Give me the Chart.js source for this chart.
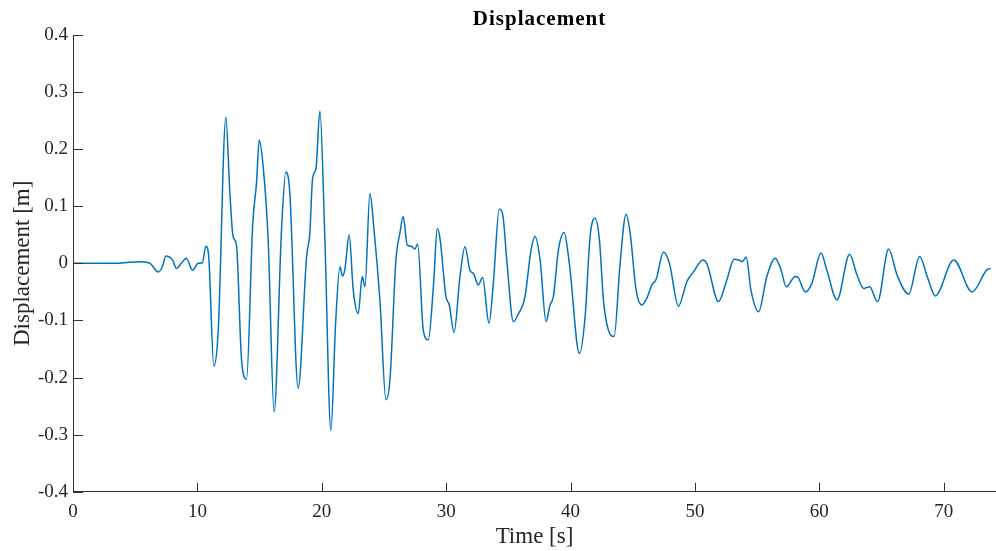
<!doctype html>
<html lang="en">
  <head>
    <meta charset="UTF-8">
    <title>Displacement</title>
    <style>
      body { margin: 0; background: #fff; }
    </style>
  </head>
  <body>
    <canvas id="myChart" width="996" height="551"></canvas>

    <script src="https://cdn.jsdelivr.net/npm/chart.js@4.4.1/dist/chart.umd.min.js"></script>
    <script>
    // Data-----
    const times = [
      0, 3.5, 4.5, 5.5, 6.2, 6.84, 7.2, 7.46, 8.0, 8.32, 8.7, 9.12, 9.6, 10.06, 10.4, 10.68, 10.9,
      11.32, 11.67, 12.29, 12.6, 12.87, 13.14, 13.55, 13.95, 14.45, 14.75, 14.97, 15.29, 15.69,
      16.17, 16.76, 17.11, 17.43, 18.1, 18.78, 19.04, 19.26, 19.53, 19.85, 20.25, 20.73,
      21.11, 21.46, 21.67, 21.86, 22.2, 22.53, 22.93, 23.25, 23.47, 23.87, 24.19, 24.67,
      25.16, 25.48, 25.96, 26.28, 26.55, 26.87, 27.2, 27.49, 27.71, 28.16, 28.56, 28.99,
      29.28, 29.5, 29.98, 30.25, 30.63, 31.11, 31.51, 31.91, 32.2, 32.58, 32.93, 33.44,
      33.79, 34.27, 34.55, 34.87, 35.4, 35.8, 36.34, 36.8, 37.14, 37.55, 38.03, 38.35,
      38.62, 39.02, 39.48, 39.9, 40.71, 41.17, 41.57, 41.97, 42.32, 42.64, 43.04, 43.5,
      43.98, 44.46, 44.79, 45.27, 45.73, 46.13, 46.53, 46.88, 47.47, 47.95, 48.67, 49.35,
      49.88, 50.63, 50.95, 51.89, 52.56, 53.15, 53.6, 53.8, 54.12, 54.5, 55.11, 55.78,
      56.45, 56.9, 57.34, 58.06, 58.3, 58.87, 59.4, 60.13, 60.6, 61.42, 62.43, 63.02,
      63.56, 64.04, 64.68, 65.57, 66.24, 67.18, 68.06, 68.7, 69.32, 70.8, 72.28, 73.48, 73.75
    ];
    const disp = [
      0, 0, 0.002, 0.003, 0, -0.015, -0.005, 0.013, 0.006, -0.009, 0.0, 0.009, -0.012, 0.0, 0.001, 0.030, 0.015,
      -0.180, -0.120, 0.256, 0.128, 0.047, 0.032, -0.169, -0.203, 0.070, 0.140, 0.216, 0.169, 0.041,
      -0.260, 0.058, 0.160, 0.123, -0.219, 0.012, 0.053, 0.149, 0.166, 0.267, 0.041, -0.293,
      -0.105, -0.006, -0.022, -0.010, 0.050, -0.047, -0.088, -0.023, -0.041, 0.123, 0.061, -0.064,
      -0.239, -0.204, 0.006, 0.053, 0.082, 0.032, 0.030, 0.025, 0.034, -0.117, -0.134, -0.035,
      0.061, 0.044, -0.058, -0.073, -0.121, -0.023, 0.029, -0.012, -0.018, -0.038, -0.025, -0.105,
      -0.035, 0.095, 0.085, 0.006, -0.102, -0.089, -0.058, 0.020, 0.047, 0.006, -0.102, -0.073,
      -0.058, 0.023, 0.054, 0.0, -0.158, -0.093, 0.047, 0.079, 0.041, -0.064, -0.117, -0.128,
      0.0, 0.086, 0.053, -0.047, -0.073, -0.061, -0.038, -0.028, 0.020, 0.0, -0.075, -0.032,
      -0.015, 0.006, 0.0, -0.067, -0.029, 0.007, 0.005, 0.003, 0.011, -0.047, -0.085, -0.023,
      0.009, -0.010, -0.041, -0.023, -0.025, -0.050, -0.035, 0.018, -0.012, -0.064, 0.016, -0.020,
      -0.044, -0.041, -0.067, 0.025, -0.020, -0.054, 0.012, -0.025, -0.057, 0.006, -0.050, -0.011, -0.009
    ];
    const xTicks = [0, 10, 20, 30, 40, 50, 60, 70];
    const yTicks = [-0.4, -0.3, -0.2, -0.1, 0, 0.1, 0.2, 0.3, 0.4];
    // Data-----

    const axisColor = '#333333';
    const textColor = '#262626';
    const serif = '"Liberation Serif", "Times New Roman", serif';

    // inward ticks + centred bold title, MATLAB style
    const matlabAxes = {
        id: 'matlabAxes',
        afterDraw(chart) {
            const ctx = chart.ctx;
            const area = chart.chartArea;
            const xs = chart.scales.x, ys = chart.scales.y;
            ctx.save();
            ctx.strokeStyle = axisColor;
            ctx.lineWidth = 1;
            ctx.beginPath();
            xTicks.forEach(v => {
                const px = Math.round(xs.getPixelForValue(v)) + 0.5;
                ctx.moveTo(px, area.bottom);
                ctx.lineTo(px, area.bottom - 9);
            });
            yTicks.forEach(v => {
                const py = Math.round(ys.getPixelForValue(v)) + 0.5;
                ctx.moveTo(area.left, py);
                ctx.lineTo(area.left + 10, py);
            });
            ctx.stroke();

            ctx.fillStyle = '#000';
            ctx.font = 'bold 21px ' + serif;
            ctx.letterSpacing = '1px';
            ctx.textAlign = 'center';
            ctx.textBaseline = 'middle';
            ctx.fillText('Displacement', (area.left + area.right) / 2 + 5, 20);
            ctx.restore();
        }
    };

    const config = {
        type: 'line',
        data: {
            datasets: [{
                label: 'Displacement',
                borderColor: '#0072BD',
                borderWidth: 1.5,
                pointRadius: 0,
                cubicInterpolationMode: 'monotone',
                data: times.map((t, i) => ({x: t, y: disp[i]})),
            }]
        },
        options: {
            responsive: false,
            animation: false,
            layout: {
                padding: {top: 35, right: 0, bottom: 0, left: 0}
            },
            plugins: {
                legend: {display: false},
                tooltip: {enabled: false}
            },
            scales: {
                x: {
                    type: 'linear',
                    min: 0,
                    max: 74.2,
                    afterFit(scale) { scale.height = 59.3; },
                    afterBuildTicks(scale) { scale.ticks = xTicks.map(v => ({value: v})); },
                    grid: {display: false, drawTicks: false},
                    border: {display: true, color: axisColor, width: 1},
                    ticks: {
                        color: textColor,
                        padding: 9,
                        maxRotation: 0,
                        font: {family: serif, size: 19}
                    },
                    title: {
                        display: true,
                        text: 'Time [s]',
                        color: textColor,
                        font: {family: serif, size: 23},
                        padding: {top: 0, bottom: 0}
                    }
                },
                y: {
                    type: 'linear',
                    min: -0.4,
                    max: 0.4,
                    afterFit(scale) { scale.width = 73; },
                    afterBuildTicks(scale) { scale.ticks = yTicks.map(v => ({value: v})); },
                    grid: {display: false, drawTicks: false},
                    border: {display: true, color: axisColor, width: 1},
                    ticks: {
                        color: textColor,
                        padding: 5,
                        font: {family: serif, size: 19},
                        callback: v => String(Math.round(v * 10) / 10)
                    },
                    title: {
                        display: true,
                        text: 'Displacement [m]',
                        color: textColor,
                        font: {family: serif, size: 23},
                        padding: {top: 9, bottom: 0}
                    }
                }
            }
        },
        plugins: [matlabAxes]
    };

    var myChart = new Chart(
        document.getElementById('myChart'),
        config
    );
    </script>
  </body>
</html>
